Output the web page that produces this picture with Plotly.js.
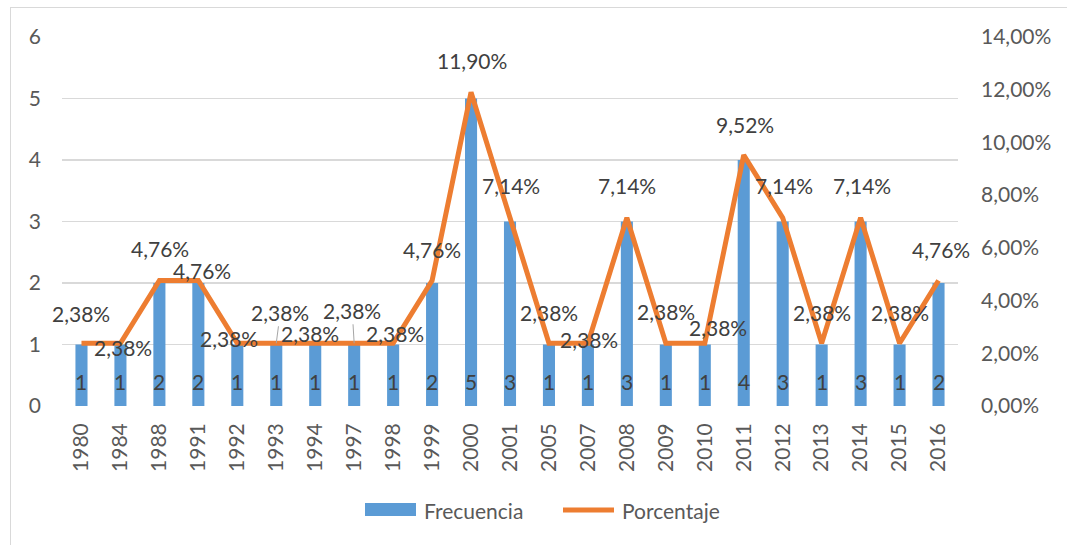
<!DOCTYPE html>
<html>
<head>
<meta charset="utf-8">
<script src="https://cdn.plot.ly/plotly-3.0.1.min.js"></script>
<style>
  html, body { margin: 0; padding: 0; background: #ffffff; overflow: hidden; }
  #wrap { position: relative; width: 1067px; height: 545px; }
  #frame { position: absolute; left: 10px; top: 7px; width: 1100px; height: 600px; border: 1px solid #d9d9d9; box-sizing: border-box; }
  #chart { position: absolute; left: 0; top: 0; width: 1067px; height: 545px; }
</style>
</head>
<body>
<div id="wrap"><div id="frame"></div><div id="chart"></div></div>
<script>
// ---- data ----
var years = ['1980','1984','1988','1991','1992','1993','1994','1997','1998','1999','2000','2001','2005','2007','2008','2009','2010','2011','2012','2013','2014','2015','2016'];
var frecuencia = [1,1,2,2,1,1,1,1,1,2,5,3,1,1,3,1,1,4,3,1,3,1,2];
var porcentaje = [2.38,2.38,4.76,4.76,2.38,2.38,2.38,2.38,2.38,4.76,11.90,7.14,2.38,2.38,7.14,2.38,2.38,9.52,7.14,2.38,7.14,2.38,4.76];
var leftTicks = [0,1,2,3,4,5,6];
var rightTicks = [0,2,4,6,8,10,12,14];
var seriesNames = ['Frecuencia','Porcentaje'];

// ---- label placement (pixels: dx right, dy up) ----
var labelDx = [0,3,1,4,-8,4,-5,-2,2,0,1,1,0,1,0,0,13,1,1,0,1,0,2];
var labelDy = [30,-4,32,10,5,31,10,33,10,31,32,32,31,4,32,32,16,31,32,31,32,31,31];
var leader  = [0,0,0,0,0,1,0,1,0,0,0,0,0,0,0,0,0,0,0,0,0,0,0];

var BLUE = '#5B9BD5', ORANGE = '#ED7D31';
var FONT = 'Lato, "Open Sans", sans-serif';
var FS = 21;
var TICKC = '#595959', LABC = '#404040';

var L = 62, R = 958, T = 37, B = 406;
function px(x){ return (x - L) / (R - L); }
function py(y){ return (B - y) / (B - T); }

function fmt(v){ return v.toFixed(2).replace('.', ',') + '%'; }

var traces = [
  { type: 'bar', name: seriesNames[0], x: years, y: frecuencia, width: 0.31,
    marker: { color: BLUE }, yaxis: 'y', hoverinfo: 'x+y', showlegend: false },
  { type: 'scatter', mode: 'lines', name: seriesNames[1], x: years, y: porcentaje,
    line: { color: ORANGE, width: 5 }, yaxis: 'y2', showlegend: false }
];

var annotations = [];
for (var i = 0; i < years.length; i++) {
  // bar labels at base (x given as category index)
  annotations.push({ x: i, y: 0, xref: 'x', yref: 'y', text: String(frecuencia[i]),
    showarrow: false, yshift: 25, font: { family: FONT, size: FS, color: LABC } });
  // line labels
  if (leader[i]) {
    annotations.push({ x: i, y: porcentaje[i], xref: 'x', yref: 'y2', text: fmt(porcentaje[i]),
      showarrow: true, arrowhead: 0, arrowwidth: 1, arrowcolor: '#a6a6a6',
      ax: labelDx[i], ay: -labelDy[i], borderpad: -4,
      font: { family: FONT, size: FS, color: LABC } });
  } else {
    annotations.push({ x: i, y: porcentaje[i], xref: 'x', yref: 'y2', text: fmt(porcentaje[i]),
      showarrow: false, xshift: labelDx[i], yshift: labelDy[i],
      font: { family: FONT, size: FS, color: LABC } });
  }
}
// legend texts
annotations.push({ xref: 'paper', yref: 'paper', x: px(422), y: py(510), xanchor: 'left', yanchor: 'middle',
  text: seriesNames[0], showarrow: false, font: { family: FONT, size: FS, color: TICKC } });
annotations.push({ xref: 'paper', yref: 'paper', x: px(620), y: py(510), xanchor: 'left', yanchor: 'middle',
  text: seriesNames[1], showarrow: false, font: { family: FONT, size: FS, color: TICKC } });

var shapes = [
  { type: 'rect', xref: 'paper', yref: 'paper', x0: px(365), x1: px(416), y0: py(516), y1: py(503),
    fillcolor: BLUE, line: { width: 0 } },
  { type: 'line', xref: 'paper', yref: 'paper', x0: px(563), x1: px(614), y0: py(510), y1: py(510),
    line: { color: ORANGE, width: 5 } }
];

var layout = {
  width: 1067, height: 545,
  margin: { l: L, r: 1067 - R, t: T, b: 545 - B, pad: 0 },
  paper_bgcolor: 'rgba(0,0,0,0)', plot_bgcolor: 'rgba(0,0,0,0)',
  separators: ',.',
  font: { family: FONT, size: FS, color: TICKC },
  showlegend: false,
  bargap: 0.69,
  xaxis: { type: 'category', categoryorder: 'array', categoryarray: years,
    range: [-0.5, years.length - 0.5], autorange: false,
    tickangle: -90, ticks: '', showgrid: false, showline: false, zeroline: false,
    ticklabelstandoff: 12,
    tickfont: { family: FONT, size: FS, color: TICKC } },
  yaxis: { range: [0, 6], tickvals: leftTicks, ticks: '', showline: false,
    zeroline: false, gridcolor: '#d9d9d9', gridwidth: 1.3,
    ticklabelstandoff: 20,
    tickfont: { family: FONT, size: FS, color: TICKC } },
  yaxis2: { overlaying: 'y', side: 'right', range: [0, 14], tickvals: rightTicks,
    ticktext: rightTicks.map(fmt), ticks: '', showgrid: false, showline: false, zeroline: false,
    ticklabelstandoff: 22,
    tickfont: { family: FONT, size: FS, color: TICKC } },
  annotations: annotations,
  shapes: shapes
};

Plotly.newPlot('chart', traces, layout, { displayModeBar: false, staticPlot: true });
</script>
</body>
</html>
